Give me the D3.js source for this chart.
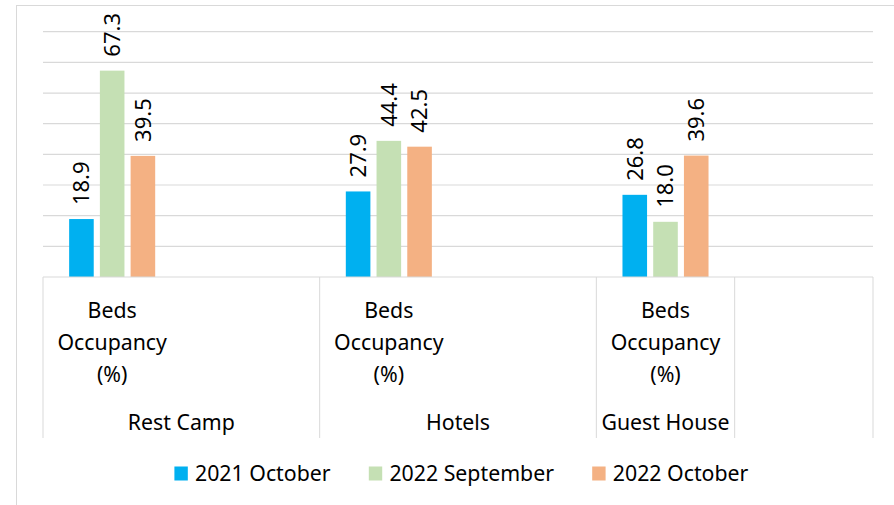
<!DOCTYPE html>
<html>
<head>
<meta charset="utf-8">
<script src="https://cdn.jsdelivr.net/npm/d3@7"></script>
<style>
  body { margin: 0; background: #ffffff; }
  text { font-family: 'Noto Sans', sans-serif; fill: #000000; }
</style>
</head>
<body>
<div id="grafico"></div>
<script>
// Grafica de barras agrupadas - ocupacion de camas

// datos (categorias en dos niveles, como en la hoja original)
grupos  = ['Rest Camp', 'Rest Camp', 'Hotels', 'Hotels', 'Guest House', '']
subcats = ['Beds Occupancy (%)', '', 'Beds Occupancy (%)', '', 'Beds Occupancy (%)', '']
series  = ['2021 October', '2022 September', '2022 October']
oct2021 = [18.9, null, 27.9, null, 26.8, null]
sep2022 = [67.3, null, 44.4, null, 18.0, null]
oct2022 = [39.5, null, 42.5, null, 39.6, null]
yMax = 80
colores = ['#00B0F0', '#C5E0B4', '#F4B183']

valores = [oct2021, sep2022, oct2022]

// contenedor principal y margenes
ancho_total = 894
alto_total  = 505
margins = { top: 31.7, left: 43, right: 21, bottom: 228 }
ancho = ancho_total - margins.left - margins.right
alto  = alto_total - margins.top - margins.bottom
fuente = 21.3
gris = '#d9d9d9'

svg = d3.select('#grafico').append('svg')
          .attr('width', ancho_total)
          .attr('height', alto_total)

// borde del area del grafico
svg.append('rect')
    .attr('x', 16.5)
    .attr('y', 5.5)
    .attr('width', 900)
    .attr('height', 520)
    .attr('fill', '#ffffff')
    .attr('stroke', gris)

g = svg.append('g')
        .attr('transform', `translate(${ margins.left }, ${ margins.top })`)

// escaladores
x = d3.scaleBand()
      .domain(d3.range(grupos.length))
      .range([0, ancho])
anchoGrupo = x.bandwidth() * 0.622
x1 = d3.scaleBand()
      .domain(series)
      .range([-anchoGrupo / 2, anchoGrupo / 2])
      .paddingInner(0.2)
y = d3.scaleLinear()
      .domain([0, yMax])
      .range([alto, 0])
color = d3.scaleOrdinal()
          .domain(series)
          .range(colores)

// lineas de division horizontales
g.append('g')
  .selectAll('line')
  .data(y.ticks(8).filter(d => d > 0))
  .join('line')
    .attr('x1', 0)
    .attr('x2', ancho)
    .attr('y1', d => y(d))
    .attr('y2', d => y(d))
    .attr('stroke', gris)
    .attr('stroke-width', 1.2)

// barras
filas = []
series.forEach((s, j) => {
  valores[j].forEach((v, i) => {
    if (v != null) filas.push({ serie: s, slot: i, valor: v })
  })
})
centro = d => x(d.slot) + x.bandwidth() / 2 + x1(d.serie)

g.append('g')
  .selectAll('rect')
  .data(filas)
  .join('rect')
    .attr('x', d => centro(d))
    .attr('y', d => y(d.valor))
    .attr('width', x1.bandwidth())
    .attr('height', d => alto - y(d.valor))
    .attr('fill', d => color(d.serie))

// etiquetas de datos (rotadas)
g.append('g')
  .selectAll('text')
  .data(filas)
  .join('text')
    .attr('transform', d => `translate(${ centro(d) + x1.bandwidth() / 2 }, ${ y(d.valor) - 14 }) rotate(-90)`)
    .attr('dy', '0.36em')
    .attr('text-anchor', 'start')
    .style('font-size', '22px')
    .text(d => d.valor.toFixed(1))

// eje de categorias en dos niveles
eje = g.append('g').attr('transform', `translate(0, ${ alto })`)
eje.append('line')
    .attr('x1', 0).attr('x2', ancho)
    .attr('stroke', gris)

cortes = d3.range(grupos.length + 1)
            .filter(i => i == 0 || i == grupos.length || grupos[i] != grupos[i - 1])
posCorte = i => i == grupos.length ? ancho : x(i)

eje.selectAll('.corte')
  .data(cortes)
  .join('line')
    .attr('class', 'corte')
    .attr('x1', d => posCorte(d))
    .attr('x2', d => posCorte(d))
    .attr('y1', 0)
    .attr('y2', 161)
    .attr('stroke', gris)

// nivel interno: subcategoria partida en lineas
eje.selectAll('.sub')
  .data(subcats.map((s, i) => ({ s, i })).filter(d => d.s != ''))
  .join('text')
    .attr('class', 'sub')
    .attr('text-anchor', 'middle')
    .style('font-size', fuente + 'px')
    .each(function(d) {
      d3.select(this).selectAll('tspan')
        .data(d.s.split(' '))
        .join('tspan')
          .attr('x', x(d.i) + x.bandwidth() / 2)
          .attr('y', (t, k) => 40.7 + k * 32)
          .text(t => t)
    })

// nivel externo: grupos
tramos = cortes.slice(0, -1).map((c, k) => ({ nombre: grupos[c], ini: posCorte(c), fin: posCorte(cortes[k + 1]) }))
eje.selectAll('.grupo')
  .data(tramos.filter(d => d.nombre != ''))
  .join('text')
    .attr('class', 'grupo')
    .attr('x', d => (d.ini + d.fin) / 2)
    .attr('y', 153)
    .attr('text-anchor', 'middle')
    .style('font-size', fuente + 'px')
    .text(d => d.nombre)

// leyenda
leyenda = svg.append('g')
items = leyenda.selectAll('g')
  .data(series)
  .join('g')
items.append('rect')
    .attr('y', 466.5)
    .attr('width', 13.4)
    .attr('height', 14)
    .attr('fill', d => color(d))
items.append('text')
    .attr('x', 20.6)
    .attr('y', 480.5)
    .style('font-size', fuente + 'px')
    .text(d => d)

anchos = []
items.each(function() { anchos.push(this.getBBox().width) })
separacion = 38
total = d3.sum(anchos) + separacion * (anchos.length - 1)
posX = 461.5 - total / 2
items.attr('transform', (d, k) => {
  let p = posX
  posX += anchos[k] + separacion
  return `translate(${ p }, 0)`
})
</script>
</body>
</html>
